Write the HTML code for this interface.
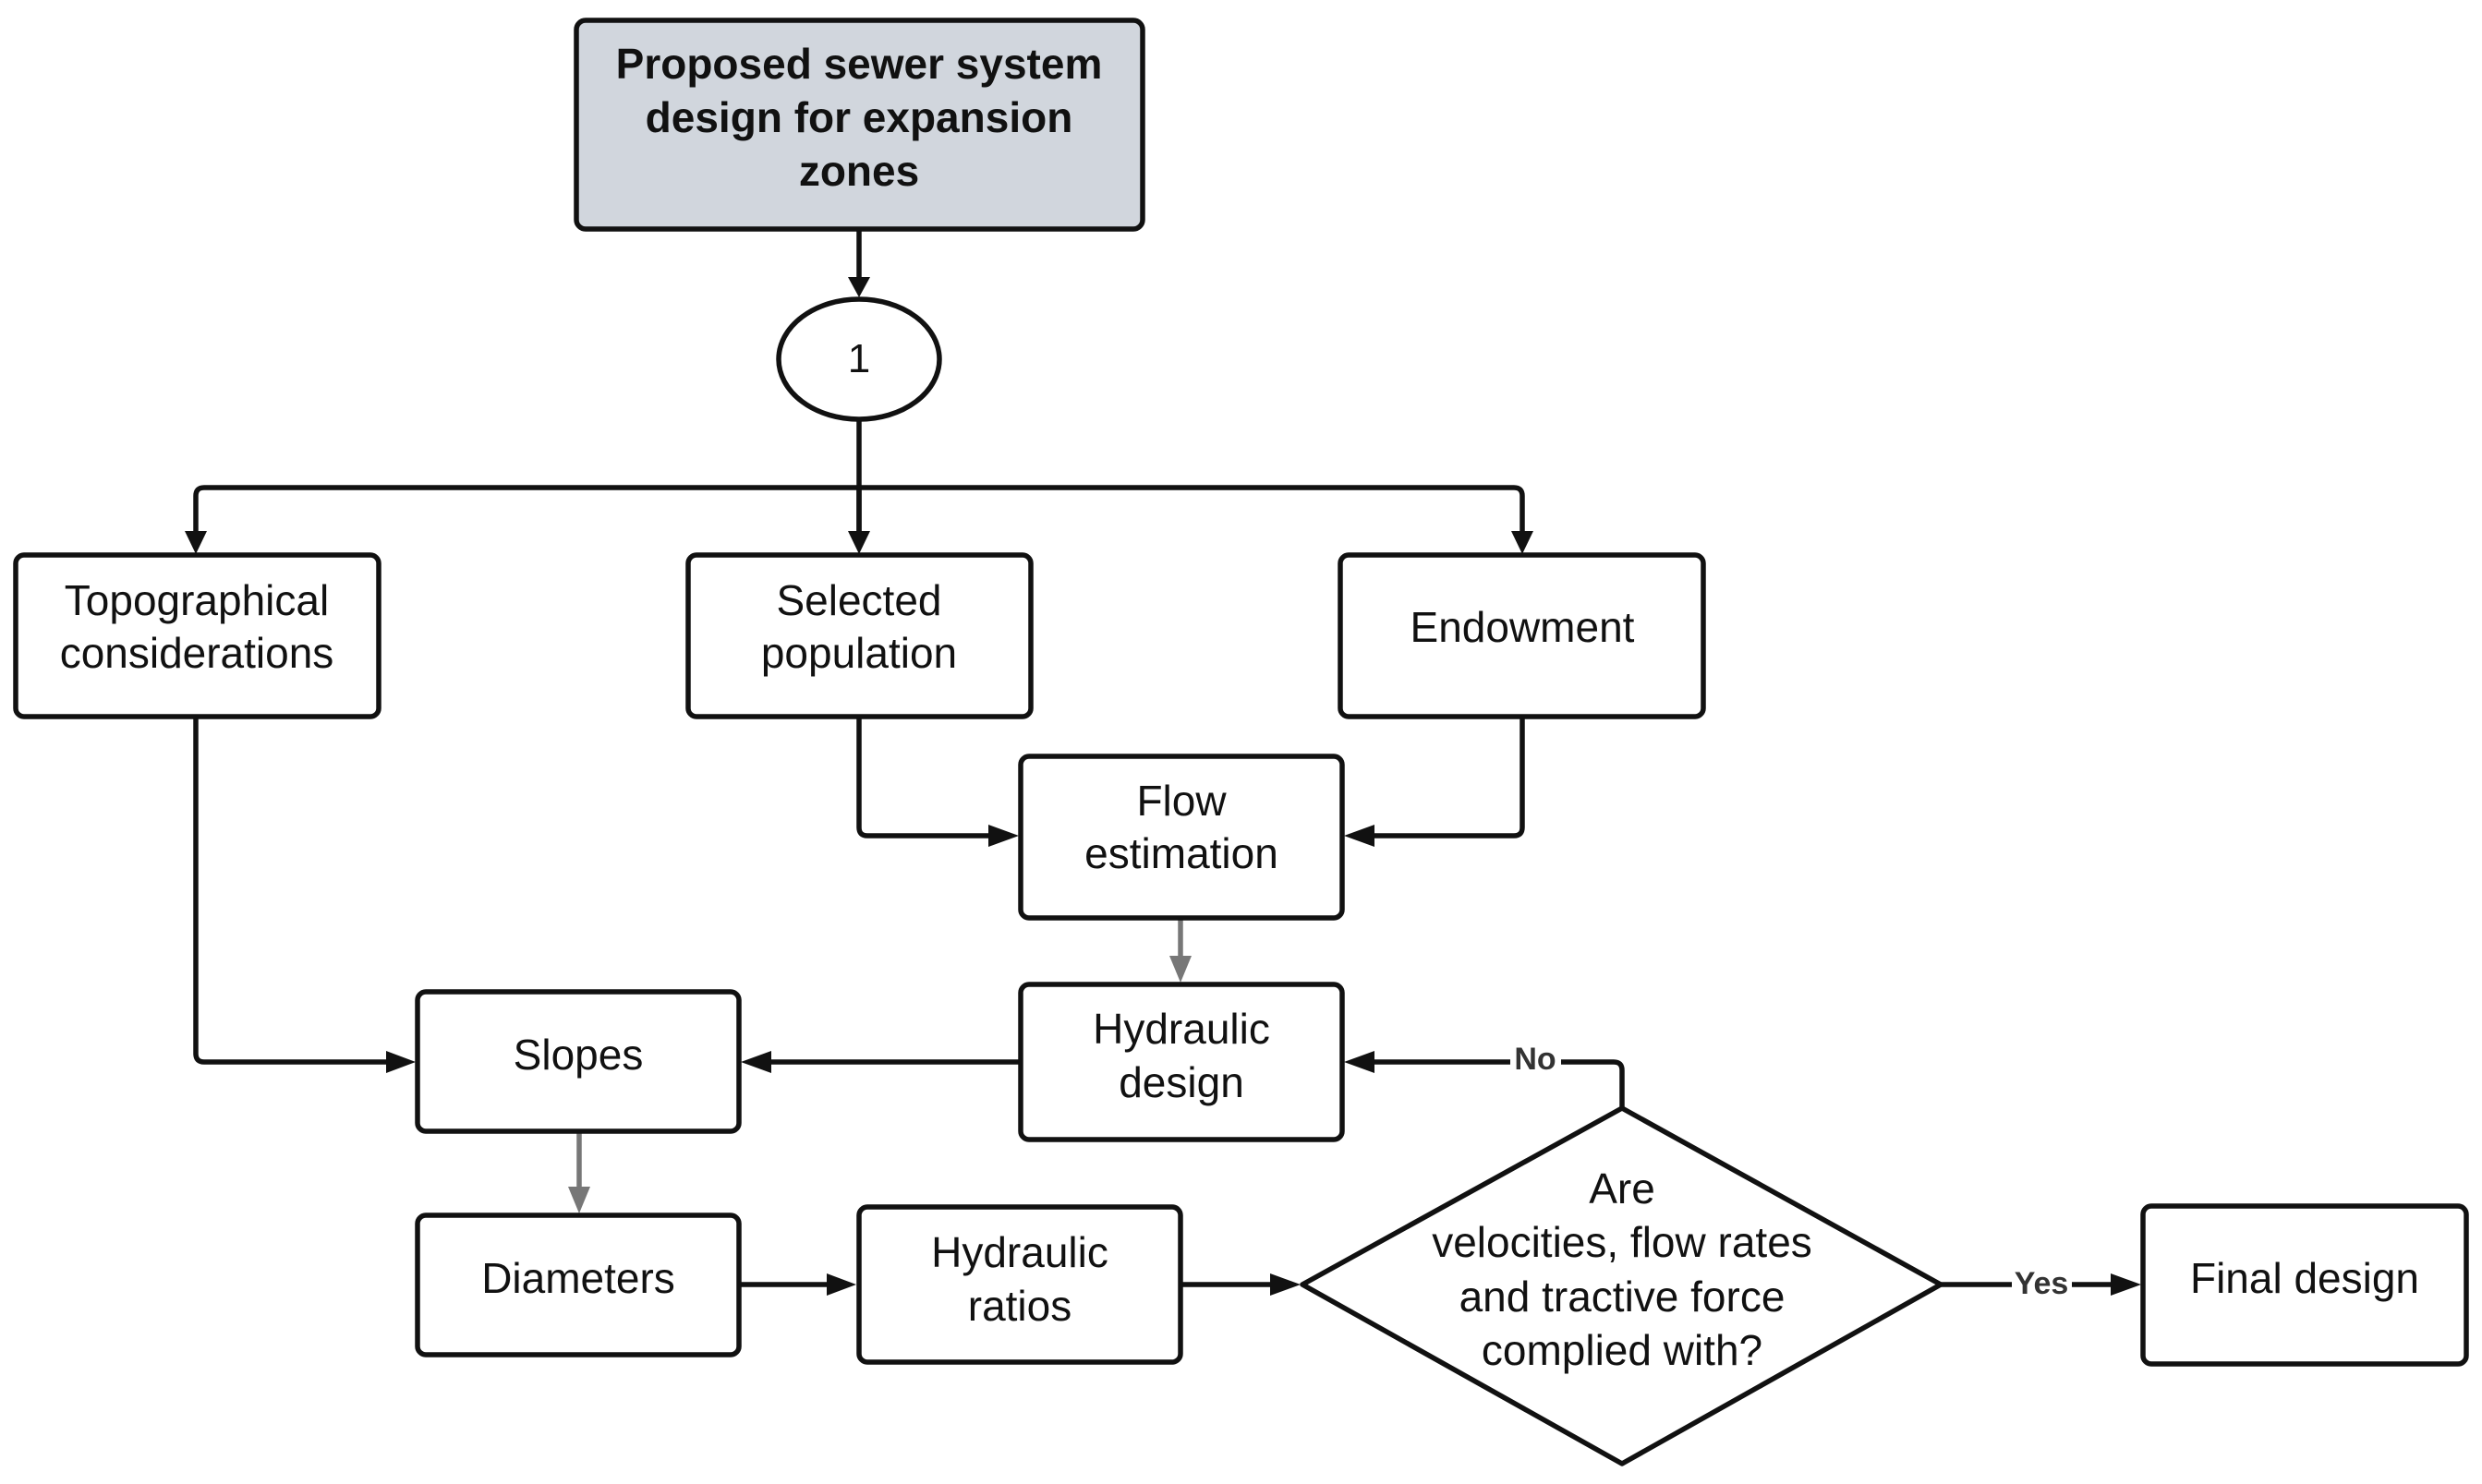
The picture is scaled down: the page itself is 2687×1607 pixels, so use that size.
<!DOCTYPE html>
<html><head><meta charset="utf-8"><style>
html,body{margin:0;padding:0;background:#fff;}
svg{display:block;}
text{font-family:"Liberation Sans",Arial,sans-serif;font-size:46px;fill:#111;text-anchor:middle;}
</style></head><body>
<svg width="2687" height="1607" viewBox="0 0 2687 1607" xmlns="http://www.w3.org/2000/svg">
<g stroke="#111" stroke-width="5.5" fill="none" stroke-linejoin="round">
<path d="M930 248 V300"/>
<path d="M930 454 V575"/>
<path d="M212 575 V537 Q212 528 221 528 H1639 Q1648 528 1648 537 V575"/>
<path d="M930 528 V575"/>
<path d="M930 776 V896 Q930 905 939 905 H1070"/>
<path d="M1648 776 V896 Q1648 905 1639 905 H1488"/>
<path d="M212 776 V1141 Q212 1150 221 1150 H418"/>
<path d="M1105 1150 H835"/>
<path d="M800 1391 H895"/>
<path d="M1278 1391 H1375"/>
<path d="M1756 1200 V1159 Q1756 1150 1747 1150 H1690"/>
<path d="M1635 1150 H1488"/>
<path d="M2101 1391 H2178"/>
<path d="M2243 1391 H2285"/>
</g>
<g stroke="#777" stroke-width="5.5" fill="none">
<path d="M1278 994 V1035"/>
<path d="M627 1225 V1285"/>
</g>
<g fill="#111">
<polygon points="918,300 942,300 930,322"/>
<polygon points="200,575 224,575 212,600"/>
<polygon points="918,575 942,575 930,600"/>
<polygon points="1636,575 1660,575 1648,600"/>
<polygon points="1070,893 1070,917 1103,905"/>
<polygon points="1488,893 1488,917 1455,905"/>
<polygon points="418,1138 418,1162 450,1150"/>
<polygon points="835,1138 835,1162 802,1150"/>
<polygon points="1488,1138 1488,1162 1455,1150"/>
<polygon points="895,1379 895,1403 927,1391"/>
<polygon points="1375,1379 1375,1403 1408,1391"/>
<polygon points="2285,1379 2285,1403 2318,1391"/>
</g>
<g fill="#777">
<polygon points="1266,1035 1290,1035 1278,1064"/>
<polygon points="615,1285 639,1285 627,1314"/>
</g>
<g stroke="#111" stroke-width="5.5">
<rect x="624" y="22" width="613" height="226" rx="10" fill="#d1d6dd"/>
<ellipse cx="930" cy="389" rx="87" ry="65" fill="#fff"/>
<rect x="17" y="601" width="393" height="175" rx="9" fill="#fff"/>
<rect x="745" y="601" width="371" height="175" rx="9" fill="#fff"/>
<rect x="1451" y="601" width="393" height="175" rx="9" fill="#fff"/>
<rect x="1105" y="819" width="348" height="175" rx="9" fill="#fff"/>
<rect x="1105" y="1066" width="348" height="168" rx="9" fill="#fff"/>
<rect x="452" y="1074" width="348" height="151" rx="9" fill="#fff"/>
<rect x="452" y="1316" width="348" height="151" rx="9" fill="#fff"/>
<rect x="930" y="1307" width="348" height="168" rx="9" fill="#fff"/>
<polygon points="1756,1200 2101,1391 1756,1585 1410,1391" fill="#fff" stroke-linejoin="round"/>
<rect x="2320" y="1306" width="350" height="171" rx="9" fill="#fff"/>
</g>
<g style="font-weight:bold">
<text x="930" y="85">Proposed sewer system</text>
<text x="930" y="143">design for expansion</text>
<text x="930" y="201">zones</text>
</g>
<text x="930" y="403" style="font-size:44px">1</text>
<text x="213" y="666">Topographical</text>
<text x="213" y="723">considerations</text>
<text x="930" y="666">Selected</text>
<text x="930" y="723">population</text>
<text x="1648" y="695">Endowment</text>
<text x="1279" y="883">Flow</text>
<text x="1279" y="940">estimation</text>
<text x="1279" y="1130">Hydraulic</text>
<text x="1279" y="1188">design</text>
<text x="626" y="1158">Slopes</text>
<text x="626" y="1400">Diameters</text>
<text x="1104" y="1372">Hydraulic</text>
<text x="1104" y="1430">ratios</text>
<text x="1756" y="1303">Are</text>
<text x="1756" y="1361">velocities, flow rates</text>
<text x="1756" y="1420">and tractive force</text>
<text x="1756" y="1478">complied with?</text>
<text x="2495" y="1400">Final design</text>
<text x="1662" y="1158" style="font-size:34px;font-weight:bold;fill:#333">No</text>
<text x="2210" y="1401" style="font-size:34px;font-weight:bold;fill:#333">Yes</text>
</svg>
</body></html>
